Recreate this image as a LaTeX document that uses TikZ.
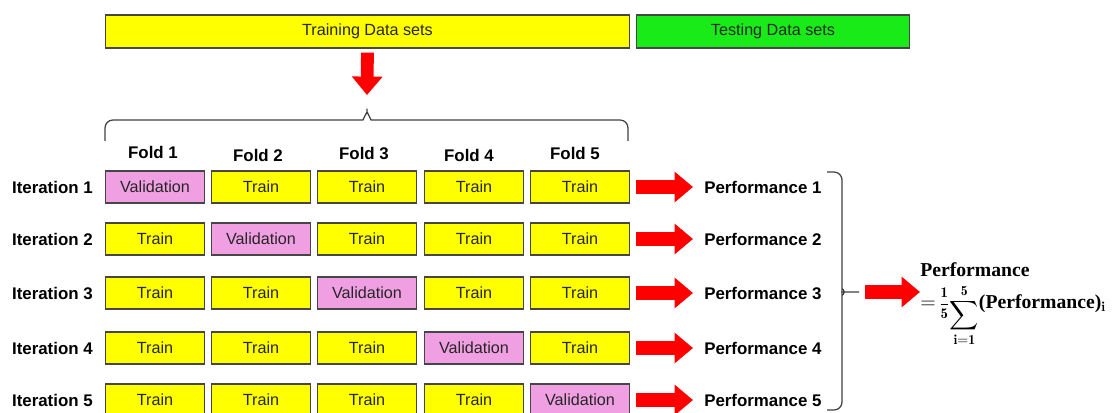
\documentclass[tikz,border=0pt]{standalone}
\usepackage{amsmath}
\usepackage{fontspec}
\newfontfamily\arialfont{Liberation Sans}
\newfontfamily\formfont{Liberation Serif}
\usetikzlibrary{arrows.meta}
\definecolor{baryellow}{RGB}{255,255,0}
\definecolor{bargreen}{RGB}{25,235,25}
\definecolor{valpink}{RGB}{240,160,226}
\definecolor{boxline}{RGB}{70,70,70}
\newcommand{\avgformula}{$=$\,{\fontsize{10.5}{12}\selectfont$\displaystyle\frac{\mathbf{1}}{\mathbf{5}}$}\raisebox{-9pt}{$\displaystyle\sum_{\mathbf{i}=\mathbf{1}}^{\mathbf{5}}$}(Performance)$_{\mathbf{i}}$}
\begin{document}
\begin{tikzpicture}[x=0.025cm,y=-0.025cm,
    box/.style={draw=boxline,line width=1pt,inner sep=0pt,minimum width=2.48cm,
        minimum height=0.8cm,text=black!85,font=\arialfont\fontsize{11.5}{13}\selectfont},
    trainbox/.style={box,fill=baryellow},
    valbox/.style={box,fill=valpink},
    databar/.style={box,minimum height=0.82cm,font=\arialfont\fontsize{11.5}{13}\selectfont},
    lab/.style={inner sep=0pt,font=\arialfont\bfseries\fontsize{12}{14}\selectfont},
    formula/.style={inner sep=0pt,anchor=base west,font=\formfont\bfseries\fontsize{14}{17}\selectfont},
    bigarrow/.style={red,line width=0.36cm,-{Triangle[length=0.46cm,width=0.74cm]}},
    bracestyle/.style={draw=black!75,line width=0.9pt,rounded corners=0.2cm}]
    \useasboundingbox (0,0) rectangle (1112,413);
    % data sets
    \node[databar,fill=baryellow,minimum width=13.1cm] (train) at (367.5,31.5) {Training Data sets};
    \node[databar,fill=bargreen,minimum width=6.83cm] (test) at (773,31.5) {Testing Data sets};
    % freccia in basso e graffa
    \coordinate (downtip) at (367,95);
    \draw[bigarrow,line width=0.32cm,shorten <=0.1cm] (train.south) -- (downtip);
    \draw[bracestyle] (105,141) -- (105,120) -- (355,120) to[out=0,in=-90] (367,104)
        to[out=-90,in=180] (379,120) -- (628,120) -- (628,141);
    % folds
    \foreach \c/\x/\y in {1/153/152,2/258/155,3/364/153,4/469/155,5/575/153}
        \node[lab] (fold\c) at (\x,\y) {Fold \c};
    % iterazioni
    \foreach \r/\y in {1/187,2/239,3/293,4/348,5/400} {
        \node[lab,anchor=east] (it\r) at (93,\y) {Iteration \r};
        \foreach \c/\x in {1/155,2/261,3/367,4/474,5/580} {
            \ifnum\c=\r \node[valbox] (b\r\c) at (\x,\y) {Validation};
            \else \node[trainbox] (b\r\c) at (\x,\y) {Train};\fi
        }
        \node[lab,anchor=west] (perf\r) at (704,\y) {Performance \r};
        \draw[bigarrow,shorten <=0.15cm,shorten >=0.275cm] (b\r5.east) -- (perf\r.west);
    }
    % graffa a destra e media
    \draw[bracestyle] (827,172) -- (842,172) -- (842,282) to[out=-90,in=180] (851,292) -- (858,292)
        -- (851,292) to[out=180,in=90] (842,302) -- (842,410) -- (827,410);
    \coordinate (sidetip) at (858,292);
    \node[formula] (avghead) at (920,277) {Performance};
    \node[formula] (avg) at (920,308) {\avgformula};
    \draw[bigarrow,shorten <=0.175cm] (sidetip) -- (avg.west |- sidetip);
\end{tikzpicture}
\end{document}
